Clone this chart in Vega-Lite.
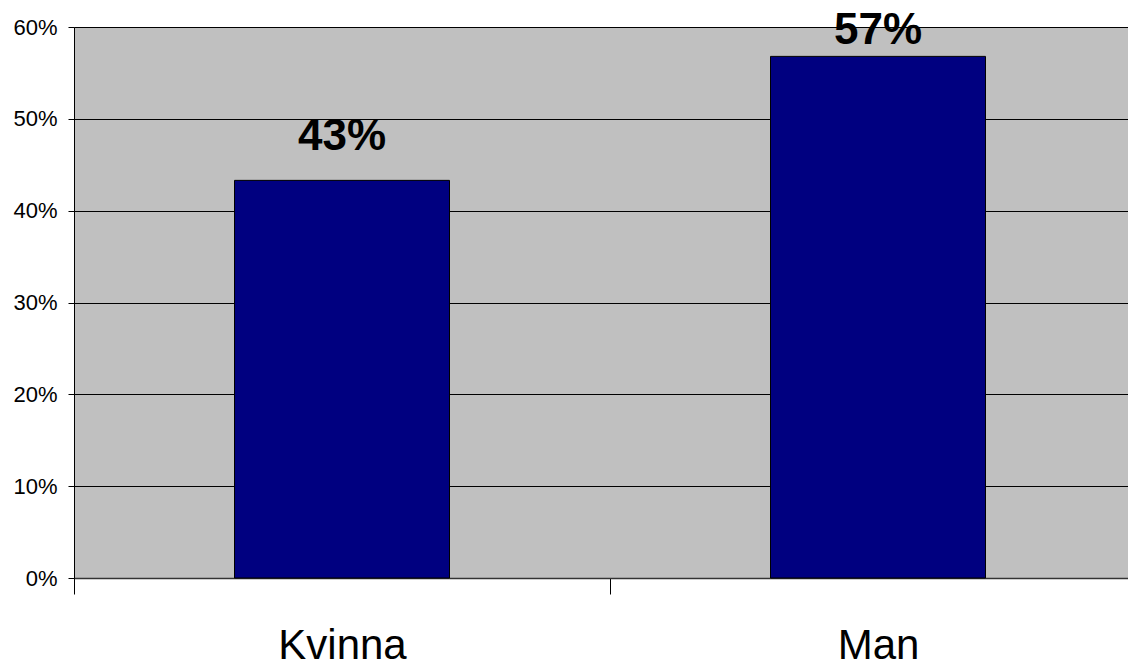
{
  "$schema": "https://vega.github.io/schema/vega-lite/v6.json",
  "autosize": {"type": "none"},
  "padding": {"left": 74, "top": 27, "right": 0, "bottom": 91},
  "width": 1072,
  "height": 551,
  "background": "white",
  "config": {
    "view": {"fill": "#C0C0C0", "stroke": null},
    "font": "Liberation Sans"
  },
  "data": {
    "values": [
      {"kon": "Kvinna", "andel": 0.433, "etikett": "43%"},
      {"kon": "Man", "andel": 0.568, "etikett": "57%"}
    ]
  },
  "encoding": {
    "x": {
      "field": "kon",
      "type": "nominal",
      "sort": null,
      "scale": {"paddingInner": 0, "paddingOuter": 0},
      "axis": {
        "title": null,
        "labelAngle": 0,
        "labelFont": "Liberation Sans",
        "labelFontSize": 42,
        "labelColor": "black",
        "labelPadding": 31,
        "tickBand": "extent",
        "tickSize": 16,
        "tickColor": "black",
        "tickWidth": 1,
        "domainColor": "#333333",
        "domainWidth": 1.5,
        "grid": false
      }
    },
    "y": {
      "field": "andel",
      "type": "quantitative",
      "scale": {"domain": [0, 0.6], "nice": false},
      "axis": {
        "title": null,
        "format": ".0%",
        "values": [0, 0.1, 0.2, 0.3, 0.4, 0.5, 0.6],
        "labelFont": "Liberation Sans",
        "labelFontSize": 22,
        "labelColor": "black",
        "labelPadding": 11,
        "tickSize": 6,
        "tickColor": "black",
        "domainColor": "black",
        "grid": true,
        "gridColor": "black",
        "gridOpacity": 1,
        "gridWidth": 1
      }
    }
  },
  "layer": [
    {
      "mark": {"type": "bar", "size": 215, "color": "#000080", "stroke": "black", "strokeWidth": 1}
    },
    {
      "transform": [{"filter": "datum.kon === 'Kvinna'"}],
      "mark": {"type": "text", "font": "Liberation Sans", "fontWeight": "bold", "fontSize": 44, "baseline": "alphabetic", "dy": -30, "color": "black"},
      "encoding": {"text": {"field": "etikett"}}
    },
    {
      "transform": [{"filter": "datum.kon === 'Man'"}],
      "mark": {"type": "text", "font": "Liberation Sans", "fontWeight": "bold", "fontSize": 44, "baseline": "alphabetic", "dy": -12, "color": "black"},
      "encoding": {"text": {"field": "etikett"}}
    }
  ]
}
